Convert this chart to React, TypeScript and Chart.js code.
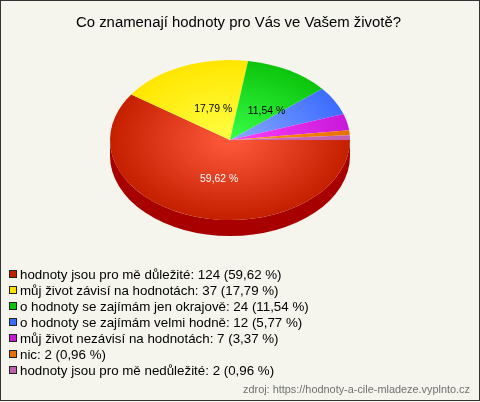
import React, { useEffect, useRef } from "react";
import { Chart, registerables } from "chart.js";

Chart.register(...registerables);

const titleText = "Co znamenají hodnoty pro Vás ve Vašem životě?";
const sourceText = "zdroj: https://hodnoty-a-cile-mladeze.vyplnto.cz";
const categories = [
  "hodnoty jsou pro mě důležité",
  "můj život závisí na hodnotách",
  "o hodnoty se zajímám jen okrajově",
  "o hodnoty se zajímám velmi hodně",
  "můj život nezávisí na hodnotách",
  "nic",
  "hodnoty jsou pro mě nedůležité",
];
const counts = [124, 37, 24, 12, 7, 2, 2];
const percents = ["59,62 %", "17,79 %", "11,54 %", "5,77 %", "3,37 %", "0,96 %", "0,96 %"];
const sliceLabels = ["59,62 %", "17,79 %", "11,54 %", "", "", "", ""];
const sliceLabelColors = ["#ffffff", "#000000", "#000000", "", "", "", ""];
const innerColors = ["#ff5a3c", "#ffff44", "#38ff48", "#88aaff", "#ff40ff", "#ff9a20", "#d070c0"];
const outerColors = ["#c42000", "#ffe600", "#0cc40c", "#3c6cff", "#c818d8", "#e87000", "#c060b0"];
const legendColors = ["#c42000", "#ffe000", "#0cc40c", "#3c6cff", "#c818d8", "#e87000", "#c060b0"];

const CX = 230;
const CY = 140;
const RX = 120;
const RY = 80;
const DEPTH = 16;
const SQUASH = RY / RX;
const SIDE_COLOR = "#a80000";
const FONT = "Arial, 'Liberation Sans', sans-serif";

const piePlugin = {
  id: "pie3d",
  beforeDraw(chart: any) {
    const ctx = chart.ctx;
    ctx.save();
    ctx.fillStyle = "#f5f5ee";
    ctx.fillRect(0, 0, chart.width, chart.height);
    ctx.strokeStyle = "#333333";
    ctx.lineWidth = 1;
    ctx.strokeRect(0.5, 0.5, chart.width - 1, chart.height - 2);
    ctx.restore();
  },
  beforeDatasetsDraw(chart: any) {
    const ctx = chart.ctx;
    const arcs = chart.getDatasetMeta(0).data;
    ctx.save();
    arcs.forEach((arc: any) => {
      const s = Math.max(arc.startAngle % (2 * Math.PI), 0);
      const e = Math.min(arc.endAngle, Math.PI);
      if (e <= s) return;
      ctx.beginPath();
      ctx.ellipse(CX, CY, RX, RY, 0, s, e);
      ctx.ellipse(CX, CY + DEPTH, RX, RY, 0, e, s, true);
      ctx.closePath();
      ctx.fillStyle = SIDE_COLOR;
      ctx.fill();
    });
    ctx.restore();
    const first = arcs[0];
    ctx.save();
    ctx.translate(CX, CY);
    ctx.scale(1, SQUASH);
    ctx.translate(-first.x, -first.y);
  },
  afterDatasetsDraw(chart: any) {
    const ctx = chart.ctx;
    ctx.restore();
    ctx.save();
    ctx.font = "10.4px " + FONT;
    ctx.textAlign = "center";
    ctx.textBaseline = "middle";
    chart.getDatasetMeta(0).data.forEach((arc: any, i: number) => {
      if (!sliceLabels[i]) return;
      const mid = (arc.startAngle + arc.endAngle) / 2;
      ctx.fillStyle = sliceLabelColors[i];
      ctx.fillText(sliceLabels[i], CX + 7 + Math.cos(mid) * RX * 0.5, CY + 3.5 + Math.sin(mid) * RY * 0.47);
    });
    ctx.restore();
  },
  afterDraw(chart: any) {
    const ctx = chart.ctx;
    ctx.save();
    ctx.textBaseline = "middle";
    ctx.font = "13.33px " + FONT;
    categories.forEach((c, i) => {
      const y = 274 + i * 16;
      ctx.fillStyle = legendColors[i];
      ctx.fillRect(9, y - 4, 8, 8);
      ctx.strokeStyle = "#222222";
      ctx.lineWidth = 1;
      ctx.strokeRect(9.5, y - 3.5, 7, 7);
      ctx.fillStyle = "#000000";
      ctx.fillText(`${c}: ${counts[i]} (${percents[i]})`, 20, y + 1);
    });
    ctx.font = "10.9px " + FONT;
    ctx.textAlign = "right";
    ctx.fillStyle = "#707070";
    ctx.fillText(sourceText, 470, 390);
    ctx.restore();
  },
};

export default function App() {
  const ref = useRef<HTMLCanvasElement | null>(null);
  useEffect(() => {
    document.body.style.margin = "0";
    const chart = new Chart(ref.current as HTMLCanvasElement, {
      type: "pie",
      data: {
        labels: categories,
        datasets: [
          {
            data: counts,
            borderWidth: 0,
            backgroundColor: (c: any) => {
              const area = c.chart.chartArea;
              if (!area) return outerColors[c.dataIndex];
              const x = (area.left + area.right) / 2;
              const y = (area.top + area.bottom) / 2;
              const g = c.chart.ctx.createRadialGradient(x, y, 0, x, y, RX);
              g.addColorStop(0, innerColors[c.dataIndex]);
              g.addColorStop(1, outerColors[c.dataIndex]);
              return g;
            },
          },
        ],
      },
      options: {
        responsive: false,
        animation: false,
        rotation: 90,
        radius: RX,
        layout: { padding: { left: 0, right: 3 } },
        plugins: {
          legend: { display: false },
          tooltip: { enabled: false },
          title: {
            display: true,
            text: titleText,
            color: "#000000",
            font: { family: FONT, size: 14.9, weight: "normal" },
            padding: { top: 14, bottom: 0 },
          },
        },
      },
      plugins: [piePlugin],
    } as any);
    return () => chart.destroy();
  }, []);
  return <canvas ref={ref} width={480} height={402} style={{ display: "block" }} />;
}
